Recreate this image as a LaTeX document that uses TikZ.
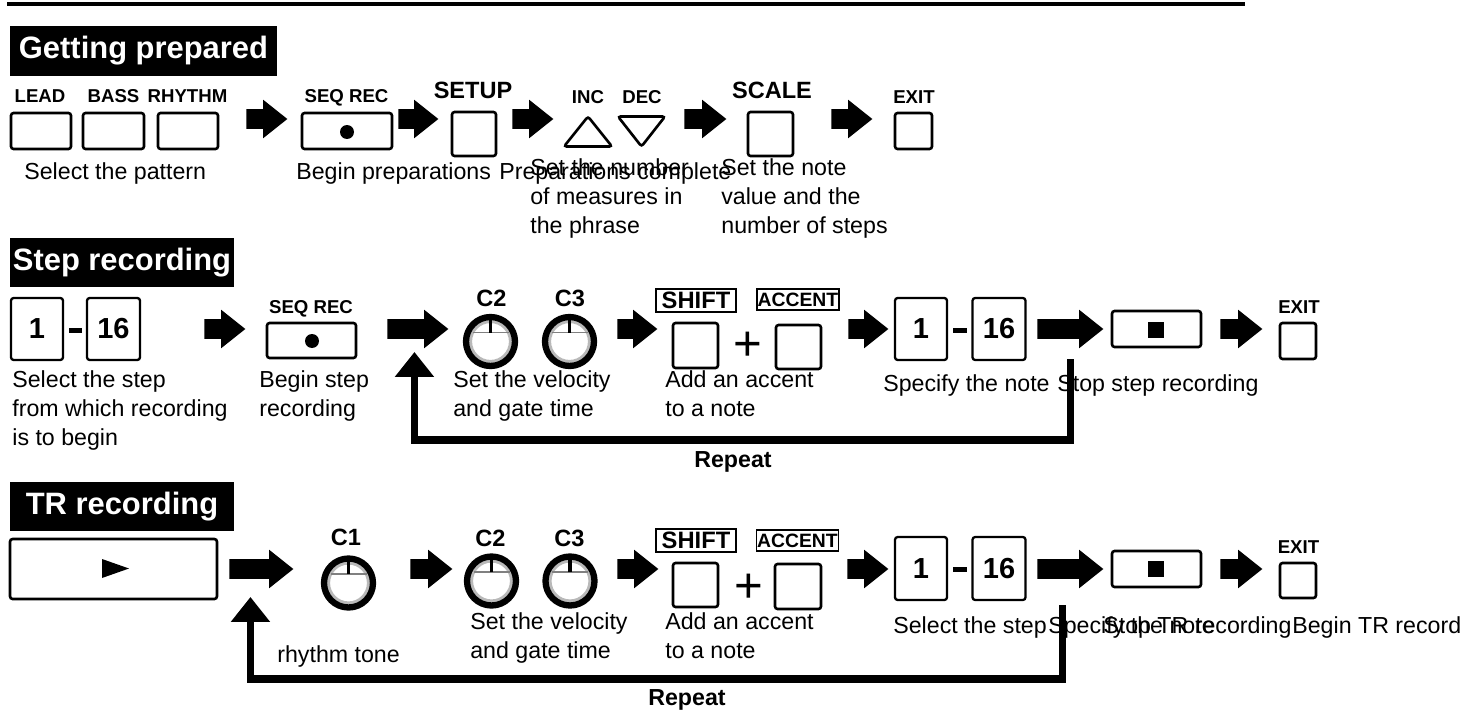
\documentclass[tikz,border=0pt]{standalone}
\usepackage{fontspec}
\setmainfont{Liberation Sans}
\usetikzlibrary{arrows.meta,shapes.arrows,calc}

\begin{document}
\begin{tikzpicture}[
  x=0.02cm, y=-0.02cm,
  txt/.style={font=\fontsize{13.2}{16.5}\selectfont, align=left, inner sep=0, anchor=north west, execute at begin node=\strut},
  head/.style={fill=black, text=white, inner sep=0, font=\bfseries\fontsize{17.6}{20}\selectfont},
  lab/.style={font=\bfseries\fontsize{10.6}{12}\selectfont, inner sep=0, anchor=base},
  biglab/.style={lab, font=\bfseries\fontsize{13.4}{15}\selectfont},
  boxlab/.style={draw, line width=0.9pt, inner sep=0, font=\bfseries\fontsize{13.5}{15}\selectfont},
  replab/.style={font=\bfseries\fontsize{13.2}{16}\selectfont, inner sep=0},
  btn/.style={draw, line width=1.5pt, rounded corners=1.5pt, fill=white, inner sep=0},
  digit/.style={btn, line width=1.3pt, minimum width=1.04cm, minimum height=1.24cm, font=\bfseries\fontsize{16.5}{18}\selectfont},
  dashbar/.style={fill=black, inner sep=0, minimum width=0.28cm, minimum height=0.1cm},
  dot/.style={circle, fill=black, inner sep=0, minimum size=0.28cm},
  sq/.style={fill=black, inner sep=0, minimum size=0.32cm},
  plus/.style={font=\fontsize{28}{30}\selectfont, inner sep=0},
  knob/.style={circle, draw, line width=3.6pt, fill=white, inner sep=0, minimum size=0.98cm,
    path picture={
      \draw[gray!55, line width=1.8pt] (path picture bounding box.center) circle (0.4cm);
      \draw[gray, line width=0.6pt] ($(path picture bounding box.center)+(-18,-9)$) -- ++(36,0);
      \draw[line width=2.2pt] ($(path picture bounding box.center)+(0,-9)$) -- ++(0,-14);
    }},
  barr/.style={single arrow, fill=black, inner xsep=0, inner ysep=0.19cm, minimum width=0.76cm, anchor=tail,
    single arrow head extend=0.19cm, single arrow tip angle=77, single arrow head indent=0},
  rep/.style={line width=4pt, -{Triangle[length=14.2pt, width=21.5pt]}}
]
\useasboundingbox (0,0) rectangle (1465,720);
\fill[white] (0,0) rectangle (1465,720);

\draw[line width=2.8pt] (7,4) -- (1245,4);

% getting prepared
\node[head, minimum width=5.34cm, minimum height=1.0cm] (hprep) at (143.5,51) {Getting prepared};

\node[lab] (llead) at (40,102) {LEAD};
\node[lab] (lbass) at (113.5,102) {BASS};
\node[lab] (lrhythm) at (187.5,102) {RHYTHM};
\node[btn, minimum width=1.2cm, minimum height=0.72cm] (lead) at (41,131) {};
\node[btn, minimum width=1.22cm, minimum height=0.72cm] (bass) at (113.5,131) {};
\node[btn, minimum width=1.2cm, minimum height=0.72cm] (rhythm) at (188,131) {};
\node[barr, minimum height=0.82cm] (ga1) at (246,119) {};
\node[lab] (lseq) at (346.5,102) {SEQ REC};
\node[btn, minimum width=1.8cm, minimum height=0.72cm] (seqrec) at (347,131) {};
\node[dot] (recdot) at (347,132) {};
\node[barr, minimum height=0.8cm] (ga2) at (398,119) {};
\node[biglab] (lsetup) at (473,98) {SETUP};
\node[btn, minimum size=0.88cm] (setup) at (474,134) {};
\node[barr, minimum height=0.82cm] (ga3) at (512,119) {};
\node[lab] (linc) at (588,103) {INC};
\node[lab] (ldec) at (642,103) {DEC};
\draw[line width=1.5pt, rounded corners=1.5pt] (564,146.5) -- (588,116.5) -- (612,146.5) -- cycle;
\draw[line width=1.5pt, rounded corners=1.5pt] (618,116.5) -- (665,116.5) -- (641.5,146.5) -- cycle;
\node[barr, minimum height=0.84cm] (ga4) at (684,119) {};
\node[biglab] (lscale) at (772,98) {SCALE};
\node[btn, minimum width=0.9cm, minimum height=0.88cm] (scale) at (770.5,134) {};
\node[barr, minimum height=0.82cm] (ga5) at (831,119) {};
\node[lab] (lexit) at (914,103) {EXIT};
\node[btn, minimum width=0.74cm, minimum height=0.72cm] (exit) at (913.5,131) {};

\node[txt] (tpat) at (24,158.6) {Select the pattern};
\node[txt] (tbegprep) at (296,158.6) {Begin preparations};
\node[txt] (tprepdone) at (499,158.6) {Preparations complete};
\node[txt] (tmeas) at (530,158.6) {Set the number\\of measures in\\the phrase};
\node[txt] (tsteps) at (721,158.6) {Set the note\\value and the\\number of steps};

% step recording
\node[head, minimum width=4.48cm, minimum height=0.98cm] (hstep) at (122,262.5) {Step recording};

\node[digit] (sfrom) at (37,329) {1};
\node[dashbar] (sdash) at (75.5,330) {};
\node[digit, minimum width=1.06cm] (sto) at (113.5,329) {16};
\node[barr, minimum height=0.82cm] (sa1) at (204,329) {};
\node[lab] (lseq2) at (311,313) {SEQ REC};
\node[btn, minimum width=1.78cm, minimum height=0.7cm] (seqrec2) at (311.5,340.5) {};
\node[dot] (recdot2) at (312,341) {};
\node[barr, minimum height=1.22cm] (sa2) at (387,329) {};
\node[biglab] (lc2) at (491.5,306) {C2};
\node[biglab] (lc3) at (570,306) {C3};
\node[knob] (c2) at (490.5,341.5) {};
\node[knob] (c3) at (569.5,341.5) {};
\node[barr, minimum height=0.8cm] (sa3) at (617,329) {};
\node[boxlab, minimum width=1.6cm, minimum height=0.46cm] (lshift) at (696,300.5) {SHIFT};
\node[boxlab, minimum width=1.64cm, minimum height=0.42cm, font=\bfseries\fontsize{11}{12}\selectfont] (laccent) at (798,299.5) {ACCENT};
\node[btn, minimum size=0.9cm] (shift) at (695.5,345.5) {};
\node[plus] (splus) at (748,346) {+};
\node[btn, minimum width=0.9cm, minimum height=0.88cm] (accent) at (798.5,347) {};
\node[barr, minimum height=0.8cm] (sa4) at (848,329) {};
\node[digit] (snote) at (921,329) {1};
\node[dashbar] (sdash2) at (960,330) {};
\node[digit, minimum width=1.06cm] (snote2) at (999,329) {16};
\node[barr, minimum height=1.32cm] (sa5) at (1037,329) {};
\node[btn, minimum width=1.78cm, minimum height=0.72cm] (stop) at (1156.5,329) {};
\node[sq] (stopsq) at (1156,330) {};
\node[barr, minimum height=0.84cm] (sa6) at (1220,329) {};
\node[lab] (lexit2) at (1299,313) {EXIT};
\node[btn, minimum size=0.72cm] (exit2) at (1298,341) {};

\node[txt] (tstep) at (12,370.6) {Select the step\\from which recording\\is to begin};
\node[txt] (tbegstep) at (259,370.6) {Begin step\\recording};
\node[txt] (tvel) at (453,370.6) {Set the velocity\\and gate time};
\node[txt] (tacc) at (665,370.6) {Add an accent\\to a note};
\node[txt] (tnote) at (883,370.6) {Specify the note};
\node[txt] (tstop) at (1057,370.6) {Stop step recording};

\draw[rep] ($(sa5.tail)!0.5!(sa5.tip)+(0,30)$) |- ($(sa2.tail)!0.5!(sa2.tip)+(-3.5,111)$) -- ($(sa2.tail)!0.5!(sa2.tip)+(-3.5,23)$);
\node[replab] (srep) at (733,462) {Repeat};

% TR recording
\node[head, minimum width=4.48cm, minimum height=0.98cm] (htr) at (122,506.5) {TR recording};

\node[btn, minimum width=4.14cm, minimum height=1.2cm] (play) at (113.5,569) {};
\fill (102,559) -- (129,568.5) -- (102,578) -- cycle;
\node[barr, minimum height=1.28cm] (ta1) at (229,569) {};
\node[biglab] (lc1) at (346,545) {C1};
\node[knob] (c1) at (348.5,583) {};
\node[barr, minimum height=0.84cm] (ta2) at (410,569) {};
\node[biglab] (lc2b) at (490.5,546) {C2};
\node[biglab] (lc3b) at (569.5,546) {C3};
\node[knob] (c2b) at (491.5,581) {};
\node[knob] (c3b) at (570,581) {};
\node[barr, minimum height=0.82cm] (ta3) at (617,569) {};
\node[boxlab, minimum width=1.6cm, minimum height=0.46cm] (lshiftb) at (696,540.5) {SHIFT};
\node[boxlab, minimum width=1.64cm, minimum height=0.42cm, font=\bfseries\fontsize{11}{12}\selectfont] (laccentb) at (797.5,540.5) {ACCENT};
\node[btn, minimum width=0.9cm, minimum height=0.88cm] (shiftb) at (695.5,585) {};
\node[plus] (tplus) at (748.5,588) {+};
\node[btn, minimum width=0.92cm, minimum height=0.9cm] (accentb) at (798,586.5) {};
\node[barr, minimum height=0.82cm] (ta4) at (847,569) {};
\node[digit, minimum height=1.26cm] (tstep1) at (921,568.5) {1};
\node[dashbar] (tdash) at (960,569) {};
\node[digit, minimum width=1.06cm, minimum height=1.26cm] (tstep16) at (999,568.5) {16};
\node[barr, minimum height=1.32cm] (ta5) at (1037,569) {};
\node[btn, minimum width=1.78cm, minimum height=0.72cm] (stopb) at (1156.5,569) {};
\node[sq] (stopsqb) at (1156,569) {};
\node[barr, minimum height=0.84cm] (ta6) at (1220,569) {};
\node[lab] (lexit3) at (1298.5,553) {EXIT};
\node[btn, minimum width=0.72cm, minimum height=0.7cm] (exit3) at (1298,580.5) {};

\node[txt] (trtone) at (277,641.6) {rhythm tone};
\node[txt] (tvelb) at (470,612.6) {Set the velocity\\and gate time};
\node[txt] (taccb) at (665,612.6) {Add an accent\\to a note};
\node[txt] (tsel) at (893,612.6) {Select the step};
\node[txt] (tspec) at (1048,612.6) {Specify the note};
\node[txt] (tstoptr) at (1103,612.6) {Stop TR recording};
\node[txt] (tbegtr) at (1292,612.6) {Begin TR record};

\draw[rep] ($(ta5.tail)!0.5!(ta5.tip)+(-8,36)$) |- ($(ta1.tail)!0.5!(ta1.tip)+(-11,110)$) -- ($(ta1.tail)!0.5!(ta1.tip)+(-11,28)$);
\node[replab] (trep) at (687,700) {Repeat};

\end{tikzpicture}
\end{document}
